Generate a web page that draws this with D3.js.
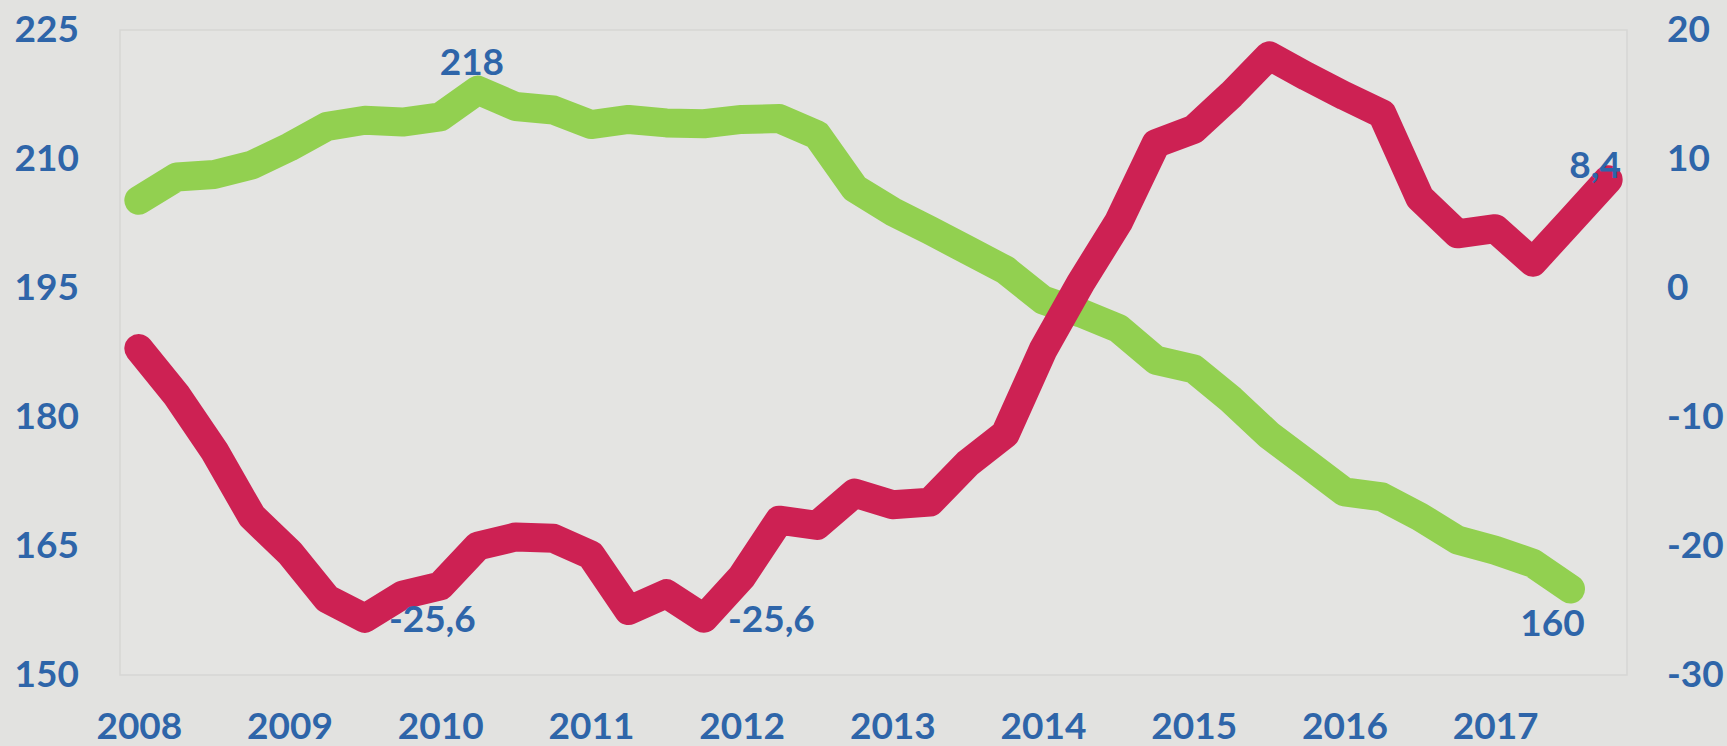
<!DOCTYPE html>
<html>
<head>
<meta charset="utf-8">
<script src="https://cdn.jsdelivr.net/npm/d3@7"></script>
<style>
html, body { margin: 0; padding: 0; background: #e2e2e0; overflow: hidden; }
svg { display: block; }
.tick text, .label { font-family: Lato, "Open Sans", sans-serif; font-weight: 700; font-size: 37px; fill: #2e65a9; }
</style>
</head>
<body>
<div id="chart"></div>
<script>
var years = ['2008', '2009', '2010', '2011', '2012', '2013', '2014', '2015', '2016', '2017'];
var quarters = ['Q1', 'Q2', 'Q3', 'Q4'];

// green series, left axis (one quarter shorter)
var stockValues = [205.2, 207.9, 208.2, 209.3, 211.4, 213.8, 214.5, 214.3, 214.9, 218.0,
    216.1, 215.7, 214.0, 214.6, 214.2, 214.1, 214.6, 214.7, 212.8, 206.6,
    203.9, 201.7, 199.4, 197.1, 193.6, 192.1, 190.3, 186.6, 185.6, 182.0,
    177.9, 174.6, 171.3, 170.7, 168.4, 165.7, 164.5, 163.0, 160.0];

// red series, right axis
var balanceValues = [-4.7, -8.3, -12.6, -17.7, -20.5, -24.1, -25.6, -23.8, -23.1, -20.0,
    -19.3, -19.4, -20.7, -25.0, -23.7, -25.6, -22.4, -18.0, -18.4, -15.9,
    -16.8, -16.6, -13.6, -11.3, -4.8, 0.4, 5.1, 11.2, 12.3, 15.0,
    18.0, 16.4, 14.9, 13.5, 7.0, 4.2, 4.6, 2.0, 5.2, 8.4];

var leftTicks = [150, 165, 180, 195, 210, 225];
var rightTicks = [-30, -20, -10, 0, 10, 20];

var stockLabels = [9, 38];
var balanceLabels = [6, 15, 39];

var categories = [];
years.forEach(function (y) {
    quarters.forEach(function (q) { categories.push(y + ' ' + q); });
});

var width = 1727;
var height = 746;
var plotLeft = 120, plotRight = 1627, plotTop = 30, plotBottom = 675;

// plain hyphen for negatives, comma as decimal mark
function plain(v) { return String(v); }
function comma(v) { return v.toFixed(1).replace('.', ','); }

var svg = d3.select('#chart')
    .append('svg')
    .attr('width', width)
    .attr('height', height);

svg.append('rect')
    .attr('width', width)
    .attr('height', height)
    .attr('fill', '#e2e2e0');

svg.append('rect')
    .attr('x', plotLeft)
    .attr('y', plotTop)
    .attr('width', plotRight - plotLeft)
    .attr('height', plotBottom - plotTop)
    .attr('fill', '#e4e4e2')
    .attr('stroke', '#d6d6d4')
    .attr('stroke-width', 1.5);

var x = d3.scalePoint()
    .domain(categories)
    .range([plotLeft, plotRight])
    .padding(0.5);

var yLeft = d3.scaleLinear().domain([150, 225]).range([plotBottom, plotTop]);
var yRight = d3.scaleLinear().domain([-30, 20]).range([plotBottom, plotTop]);

var axisLeft = d3.axisLeft(yLeft).tickValues(leftTicks).tickFormat(plain).tickSize(0).tickPadding(41);
var axisRight = d3.axisRight(yRight).tickValues(rightTicks).tickFormat(plain).tickSize(0).tickPadding(40);
var axisBottom = d3.axisBottom(x)
    .tickValues(categories.filter(function (d, i) { return i % 4 === 0; }))
    .tickFormat(function (d) { return d.split(' ')[0]; })
    .tickSize(0)
    .tickPadding(38);

svg.append('g').attr('transform', 'translate(' + plotLeft + ',0)').call(axisLeft);
svg.append('g').attr('transform', 'translate(' + plotRight + ',0)').call(axisRight);
svg.append('g').attr('transform', 'translate(0,' + plotBottom + ')').call(axisBottom);
svg.selectAll('.domain').remove();

var stockLine = d3.line()
    .x(function (d, i) { return x(categories[i]); })
    .y(function (d) { return yLeft(d); });

var balanceLine = d3.line()
    .x(function (d, i) { return x(categories[i]); })
    .y(function (d) { return yRight(d); });

svg.append('path')
    .datum(stockValues)
    .attr('d', stockLine)
    .attr('fill', 'none')
    .attr('stroke', '#92d050')
    .attr('stroke-width', 29)
    .attr('stroke-linejoin', 'round')
    .attr('stroke-linecap', 'round');

svg.append('path')
    .datum(balanceValues)
    .attr('d', balanceLine)
    .attr('fill', 'none')
    .attr('stroke', '#cd2153')
    .attr('stroke-width', 29)
    .attr('stroke-linejoin', 'round')
    .attr('stroke-linecap', 'round');

// data labels
svg.selectAll('.stock-label')
    .data(stockLabels)
    .enter()
    .append('text')
    .attr('class', 'label')
    .attr('text-anchor', 'middle')
    .attr('x', function (i) { return x(categories[i]) + (i === 9 ? -6 : -18); })
    .attr('y', function (i) { return yLeft(stockValues[i]) + (i === 9 ? -15 : 47); })
    .text(function (i) { return d3.format('.0f')(stockValues[i]); });

svg.selectAll('.balance-label')
    .data(balanceLabels)
    .enter()
    .append('text')
    .attr('class', 'label')
    .attr('text-anchor', function (i) { return i === 39 ? 'middle' : 'start'; })
    .attr('x', function (i) { return x(categories[i]) + (i === 39 ? -13 : 24); })
    .attr('y', function (i) { return yRight(balanceValues[i]) + (i === 39 ? -2 : 14); })
    .text(function (i) { return comma(balanceValues[i]); });
</script>
</body>
</html>
